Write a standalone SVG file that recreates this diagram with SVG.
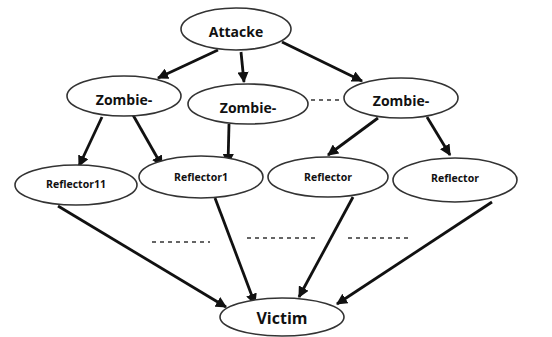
<svg xmlns="http://www.w3.org/2000/svg" width="552" height="337" viewBox="0 0 552 337">
<defs>
<marker id="ah" viewBox="0 0 10 10" refX="9" refY="5" markerWidth="4" markerHeight="4" orient="auto" markerUnits="strokeWidth">
<path d="M0,0 L10,5 L0,10 z" fill="#111"/>
</marker>
</defs>
<style>
.n ellipse{fill:#fff;stroke:#333;stroke-width:1.6}
.n text{font-family:"Open Sans","Liberation Sans",sans-serif;font-weight:bold;fill:#111;text-anchor:middle;dominant-baseline:central}
.big{font-size:14px}
.sm{font-size:10.5px}
.vic{font-size:16px}
.e{stroke:#111;stroke-width:2.8;fill:none;marker-end:url(#ah)}
.d{stroke:#333;stroke-width:1.6;stroke-dasharray:4,4;fill:none}
</style>
<rect width="552" height="337" fill="#fff"/>
<g id="connectors">
<line class="e" x1="218" y1="50" x2="158" y2="78"/>
<line class="e" x1="241" y1="52" x2="244" y2="82"/>
<line class="e" x1="282" y1="42" x2="362" y2="81"/>
<line class="e" x1="102" y1="117" x2="79" y2="166"/>
<line class="e" x1="133" y1="115" x2="162" y2="166"/>
<line class="e" x1="229" y1="124" x2="228" y2="164"/>
<line class="e" x1="378" y1="118" x2="328" y2="155"/>
<line class="e" x1="427" y1="117" x2="450" y2="155"/>
<line class="e" x1="58" y1="206" x2="226" y2="307"/>
<line class="e" x1="215" y1="198" x2="255" y2="304"/>
<line class="e" x1="353" y1="197" x2="299" y2="297"/>
<line class="e" x1="492" y1="202" x2="337" y2="304"/>
<line class="d" x1="311" y1="100" x2="342" y2="100"/>
<line class="d" x1="152" y1="242" x2="210" y2="242"/>
<line class="d" x1="247" y1="238" x2="318" y2="238"/>
<line class="d" x1="348" y1="238" x2="408" y2="238"/>
</g>
<g id="attacke" class="n"><ellipse cx="236" cy="29" rx="55" ry="21"/><text class="big" x="236" y="31">Attacke</text></g>
<g id="zombie1" class="n"><ellipse cx="124" cy="96" rx="57" ry="20"/><text class="big" x="124" y="99">Zombie-</text></g>
<g id="zombie2" class="n"><ellipse cx="248" cy="104" rx="60" ry="20"/><text class="big" x="248" y="107">Zombie-</text></g>
<g id="zombie3" class="n"><ellipse cx="401" cy="98" rx="57" ry="20"/><text class="big" x="401" y="100">Zombie-</text></g>
<g id="reflector11" class="n"><ellipse cx="76" cy="185" rx="61" ry="20"/><text class="sm" x="76" y="184">Reflector11</text></g>
<g id="reflector1" class="n"><ellipse cx="201" cy="177" rx="62" ry="21"/><text class="sm" x="201" y="177">Reflector1</text></g>
<g id="reflector3" class="n"><ellipse cx="328" cy="177" rx="60" ry="20"/><text class="sm" x="328" y="177">Reflector</text></g>
<g id="reflector4" class="n"><ellipse cx="455" cy="180" rx="62" ry="22"/><text class="sm" x="455" y="178">Reflector</text></g>
<g id="victim" class="n"><ellipse cx="282" cy="317" rx="62" ry="19"/><text class="vic" x="282" y="318">Victim</text></g>
</svg>
